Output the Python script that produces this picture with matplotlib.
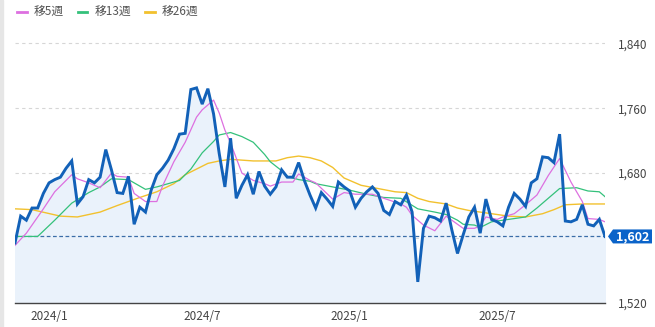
import numpy as np
import pandas as pd
import matplotlib
matplotlib.use("Agg")
import matplotlib.pyplot as plt
from matplotlib.patches import Rectangle, Polygon
from matplotlib.transforms import IdentityTransform

plt.rcParams['font.family'] = ['Noto Sans CJK JP', 'DejaVu Sans']

# weekly close
start_date = "2023-11-24"
price = [1594, 1627, 1622, 1637, 1637, 1655, 1668, 1672, 1675, 1686,
         1695, 1642, 1651, 1672, 1668, 1675, 1709, 1684, 1656, 1655,
         1676, 1617, 1638, 1632, 1659, 1678, 1686, 1696, 1710, 1728,
         1729, 1783, 1785, 1765, 1784, 1753, 1704, 1663, 1723, 1649,
         1665, 1678, 1654, 1682, 1664, 1654, 1663, 1684, 1675, 1675,
         1693, 1671, 1653, 1637, 1656, 1648, 1639, 1669, 1663, 1658,
         1638, 1649, 1657, 1663, 1655, 1634, 1629, 1645, 1641, 1653,
         1632, 1546, 1612, 1627, 1625, 1621, 1643, 1610, 1581, 1604,
         1626, 1638, 1606, 1648, 1623, 1620, 1615, 1638, 1655, 1648,
         1639, 1668, 1673, 1700, 1699, 1693, 1728, 1621, 1620, 1623,
         1641, 1617, 1615, 1623, 1602]

# moving averages (week number in the window, value)
ma5_wk = [0, 2, 5, 7, 10, 11, 13, 15, 17, 18, 20, 21, 23, 25, 26, 28, 30, 32, 33, 35,
          36, 37, 38, 40, 42, 44, 45, 47, 49, 50, 52, 53, 56, 58, 60, 63, 65, 68, 69, 70,
          72, 74, 76, 78, 79, 81, 82, 83, 85, 86, 88, 90, 92, 94, 96, 98, 100, 101, 103, 104]
ma5 = [1591, 1606, 1636, 1657, 1678, 1673, 1668, 1662, 1680, 1676, 1675, 1655, 1645, 1645, 1664, 1694, 1718, 1749, 1758, 1770,
       1754, 1733, 1717, 1680, 1671, 1667, 1664, 1669, 1669, 1679, 1671, 1668, 1648, 1656, 1654, 1654, 1649, 1642, 1638, 1628,
       1616, 1609, 1627, 1617, 1612, 1612, 1615, 1626, 1623, 1626, 1630, 1641, 1653, 1677, 1698, 1669, 1645, 1624, 1623, 1620]

ma13_wk = [0, 4, 7, 10, 13, 15, 17, 20, 23, 25, 27, 29, 31, 33, 35, 36, 38, 40, 42, 44,
           45, 47, 48, 50, 52, 53, 56, 59, 62, 65, 68, 71, 74, 76, 78, 79, 81, 82, 84, 86,
           90, 92, 94, 96, 99, 101, 103, 104]
ma13 = [1602, 1602, 1622, 1643, 1656, 1663, 1673, 1672, 1660, 1663, 1667, 1671, 1685, 1705, 1719, 1727, 1730, 1725, 1718, 1703,
        1694, 1683, 1676, 1672, 1670, 1667, 1663, 1659, 1654, 1650, 1649, 1636, 1632, 1629, 1622, 1617, 1616, 1613, 1620, 1622,
        1626, 1637, 1649, 1661, 1662, 1658, 1657, 1651]

ma26_wk = [0, 3, 8, 11, 15, 18, 22, 25, 28, 30, 34, 36, 38, 40, 42, 46, 48, 50, 52, 54,
           56, 58, 61, 64, 67, 69, 71, 73, 76, 78, 80, 84, 87, 90, 93, 95, 97, 100, 104]
ma26 = [1636, 1635, 1627, 1626, 1632, 1640, 1650, 1657, 1667, 1678, 1692, 1695, 1697, 1696, 1695, 1695, 1699, 1701, 1699, 1695,
        1687, 1674, 1665, 1661, 1657, 1656, 1649, 1645, 1642, 1637, 1634, 1630, 1627, 1626, 1630, 1635, 1641, 1642, 1642]

y_ticks = [1520, 1600, 1680, 1760, 1840]
x_tick_dates = ["2024-01-05", "2024-07-12", "2025-01-10", "2025-07-11"]
x_tick_labels = ["2024/1", "2024/7", "2025/1", "2025/7"]
legend_labels = ["移5週", "移13週", "移26週"]

dates = pd.date_range(start_date, periods=len(price), freq="7D")
last = price[-1]

fig = plt.figure(figsize=(6.55, 3.27), dpi=100)
ax = fig.add_axes([15/655, 24/327, 590/655, 276/327])

# grey strip on the far left
fig.patches.append(Rectangle((0, 0), 3/655, 1, transform=fig.transFigure,
                             color="#e6e6e6", zorder=0))

ax.set_ylim(1520, 1860)
ax.set_xlim(dates[0], dates[-1])

ax.fill_between(dates, price, 1520, color="#eaf2fb", zorder=1)
ax.plot(dates[ma26_wk], ma26, color="#f2c12e", lw=1.0, zorder=3)
ax.plot(dates[ma13_wk], ma13, color="#34c17b", lw=0.9, zorder=3)
ax.plot(dates[ma5_wk], ma5, color="#dd70e0", lw=0.9, zorder=3)
ax.plot(dates, price, color="#1261b8", lw=2.1, zorder=4, solid_joinstyle="miter")

ax.axhline(last, color="#3b6ea8", lw=0.9, ls=(0, (3, 2)), zorder=2)

# grid
for v in y_ticks[1:]:
    ax.axhline(v, color="#d6d6d6", lw=0.8, ls=(0, (3, 3)), zorder=0)

ax.yaxis.tick_right()
ax.set_yticks(y_ticks)
ax.set_yticklabels(["" if v == 1600 else f"{v:,}" for v in y_ticks])
ax.tick_params(axis="y", length=0, pad=9, labelsize=8.5, labelcolor="#444444")
ax.set_xticks(pd.to_datetime(x_tick_dates))
ax.set_xticklabels(x_tick_labels)
ax.tick_params(axis="x", length=0, pad=5, labelsize=8.5, labelcolor="#444444")

for s in ["top", "left", "right"]:
    ax.spines[s].set_visible(False)
ax.spines["bottom"].set_color("#444444")
ax.spines["bottom"].set_linewidth(1.0)

# current price tag (arrow-shaped box), drawn in pixels
fig.canvas.draw()
px, py = ax.transData.transform((ax.get_xlim()[1], last))
tag = Polygon([(px + 3, py), (px + 8, py + 7), (px + 47, py + 7),
               (px + 47, py - 7), (px + 8, py - 7)], closed=True,
              transform=IdentityTransform(), fc="#0a63c9", ec="none", zorder=5)
fig.patches.append(tag)
fig.text((px + 28) / 655, py / 327, f"{last:,}", ha="center", va="center",
         fontsize=9, fontweight="bold", color="white", zorder=6)

# legend
leg_colors = ["#dd70e0", "#34c17b", "#f2c12e"]
handles = [plt.Line2D([], [], color=c, lw=2) for c in leg_colors]
fig.legend(handles, legend_labels, loc="upper left", bbox_to_anchor=(0.01, 1.015),
           ncol=3, frameon=False, fontsize=8.5, handlelength=0.8, handletextpad=0.6,
           columnspacing=1.2, labelcolor="#555555")

fig.savefig("out.png", dpi=100)
